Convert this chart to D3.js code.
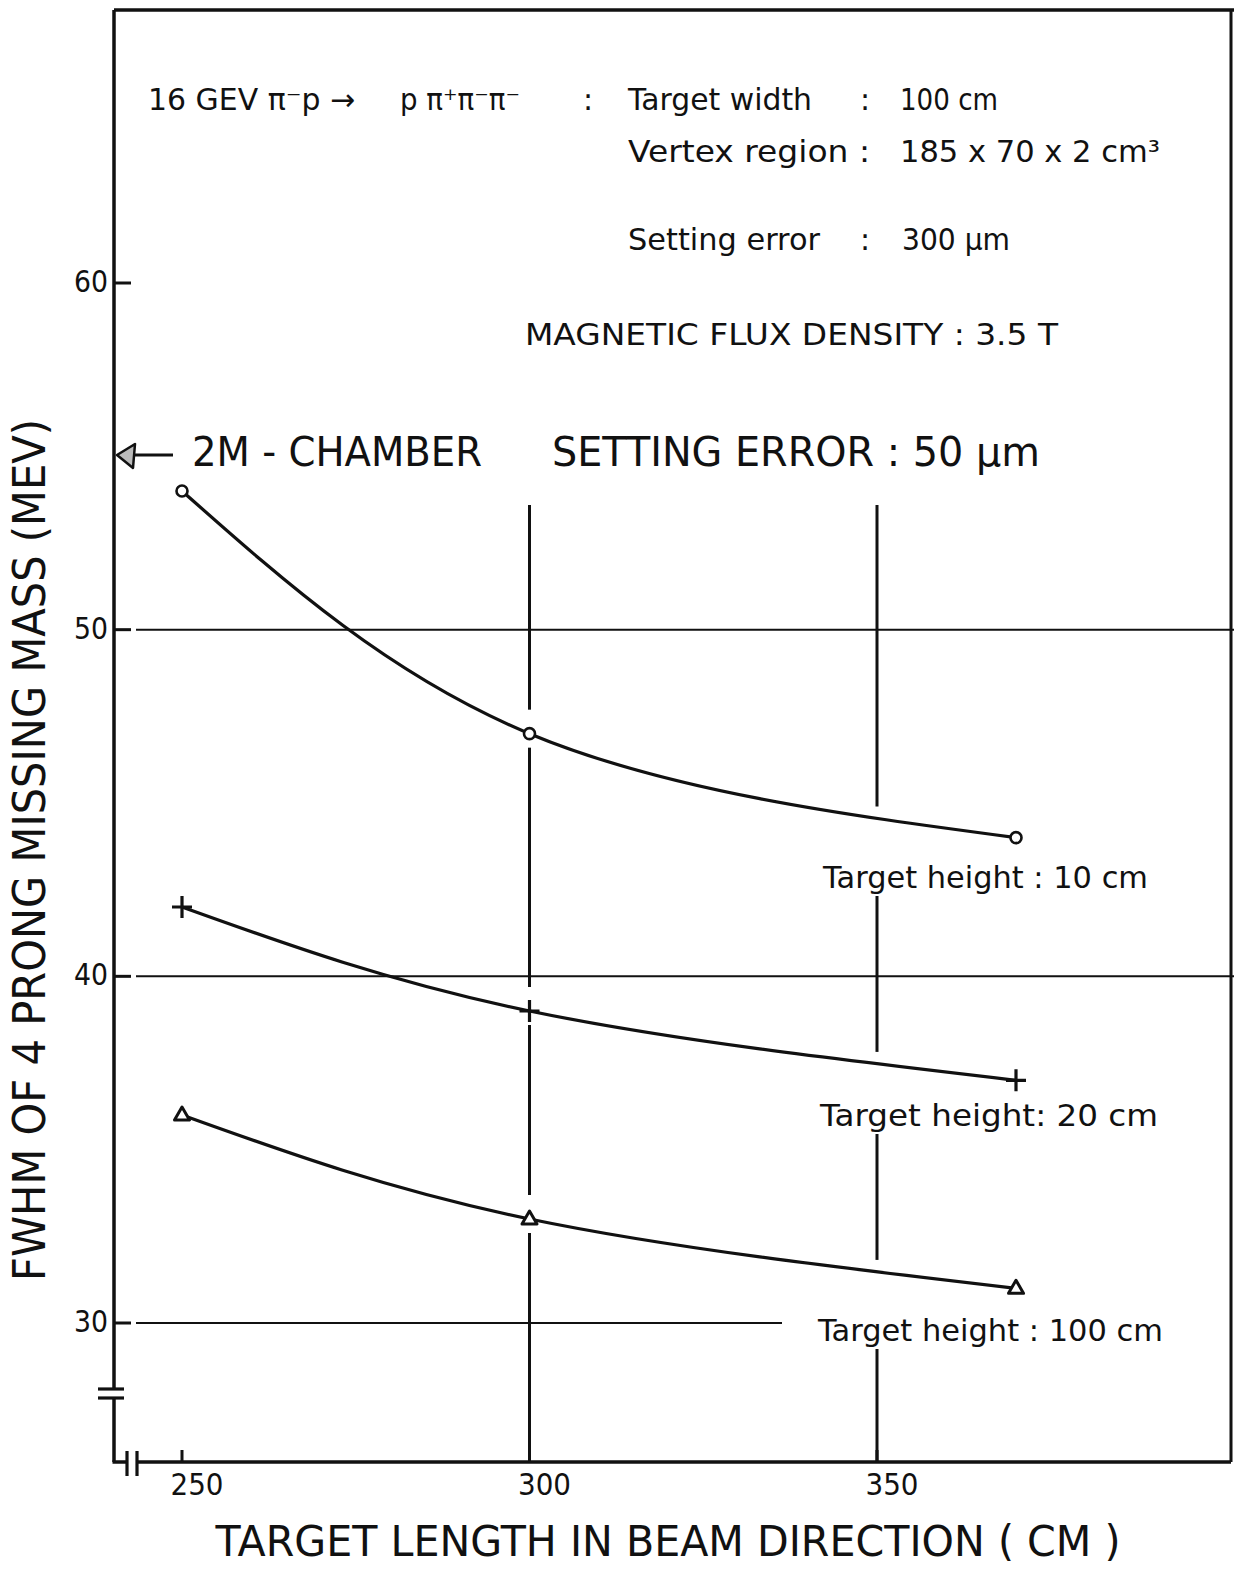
<!DOCTYPE html>
<html>
<head>
<meta charset="utf-8">
<script src="https://cdn.jsdelivr.net/npm/d3@7"></script>
<style>
  html, body { margin: 0; padding: 0; background: #fff; }
  svg { display: block; }
  text { font-family: "DejaVu Sans", "Liberation Sans", Arial, sans-serif; fill: #111; }
</style>
</head>
<body>
<svg id="chart" width="1234" height="1569"></svg>
<script>
// Target length along the beam (cm)
const lengths = [250, 300, 370];
// FWHM of the 4-prong missing mass (MeV) for each target height
const fwhm10 = [54, 47, 44];
const fwhm20 = [42, 39, 37];
const fwhm100 = [36, 33, 31];
const markerKinds = ["circle", "plus", "triangle"];
const seriesLabels = ["Target height : 10 cm", "Target height: 20 cm", "Target height : 100 cm"];
const yTicks = [30, 40, 50, 60];
const xTicks = [250, 300, 350];
const refLines = [50, 40, 30];
const guideLines = [300, 350];

const svg = d3.select("#chart");
const ink = "#111";

const x = d3.scaleLinear().domain([250, 350]).range([182, 877]);
const y = d3.scaleLinear().domain([30, 60]).range([1323, 283]);

const frameL = 114, frameT = 10, frameR = 1231, frameB = 1462;

// frame
svg.append("line").attr("x1", frameL).attr("x2", 1234).attr("y1", frameT).attr("y2", frameT)
  .attr("stroke", ink).attr("stroke-width", 3.5);
svg.append("line").attr("x1", frameR).attr("x2", frameR).attr("y1", frameT).attr("y2", frameB)
  .attr("stroke", ink).attr("stroke-width", 3);
// y axis with break
svg.append("line").attr("x1", frameL).attr("x2", frameL).attr("y1", frameT).attr("y2", 1389)
  .attr("stroke", ink).attr("stroke-width", 3.5);
svg.append("line").attr("x1", frameL).attr("x2", frameL).attr("y1", 1398).attr("y2", frameB)
  .attr("stroke", ink).attr("stroke-width", 3.5);
[1389, 1398].forEach(v => svg.append("line").attr("x1", 98).attr("x2", 124)
  .attr("y1", v).attr("y2", v).attr("stroke", ink).attr("stroke-width", 3.2));
// x axis with break
svg.append("line").attr("x1", frameL - 1.5).attr("x2", 127).attr("y1", frameB).attr("y2", frameB)
  .attr("stroke", ink).attr("stroke-width", 3.5);
svg.append("line").attr("x1", 137).attr("x2", frameR).attr("y1", frameB).attr("y2", frameB)
  .attr("stroke", ink).attr("stroke-width", 3.5);
[127, 137].forEach(v => svg.append("line").attr("x1", v).attr("x2", v)
  .attr("y1", 1451).attr("y2", 1476).attr("stroke", ink).attr("stroke-width", 3.2));

// y ticks and labels
yTicks.forEach(t => {
  svg.append("line").attr("x1", frameL).attr("x2", 131).attr("y1", y(t)).attr("y2", y(t))
    .attr("stroke", ink).attr("stroke-width", 3);
  svg.append("text").attr("x", 108).attr("y", y(t) + 9).attr("text-anchor", "end")
    .attr("font-size", 30).attr("textLength", 34).attr("lengthAdjust", "spacingAndGlyphs").text(t);
});

// x ticks and labels
xTicks.forEach(t => {
  svg.append("line").attr("x1", x(t)).attr("x2", x(t)).attr("y1", frameB - 12).attr("y2", frameB)
    .attr("stroke", ink).attr("stroke-width", 3);
  svg.append("text").attr("x", x(t) + 15).attr("y", 1495).attr("text-anchor", "middle")
    .attr("font-size", 30).attr("textLength", 53).attr("lengthAdjust", "spacingAndGlyphs").text(t);
});

// horizontal reference lines
refLines.forEach(v => {
  svg.append("line").attr("x1", 136).attr("x2", v === 30 ? 782 : 1234)
    .attr("y1", y(v)).attr("y2", y(v)).attr("stroke", ink).attr("stroke-width", 2);
});

// curves
const series = [fwhm10, fwhm20, fwhm100];
const line = d3.line().x(d => x(d[0])).y(d => y(d[1])).curve(d3.curveNatural);
const paths = series.map(vals => {
  const pts = lengths.map((l, i) => [l, vals[i]]);
  return svg.append("path").attr("d", line(pts)).attr("fill", "none")
    .attr("stroke", ink).attr("stroke-width", 3.2);
});

// y position of a curve at a given pixel x
function curveYAt(path, px) {
  const node = path.node();
  let lo = 0, hi = node.getTotalLength();
  for (let k = 0; k < 40; k++) {
    const mid = (lo + hi) / 2;
    if (node.getPointAtLength(mid).x < px) lo = mid; else hi = mid;
  }
  return node.getPointAtLength(lo).y;
}

// series labels
const labelPos = [[823, 888], [820, 1126], [818, 1341]];
const labelLen = [325, 338, 345];
seriesLabels.forEach((s, i) => {
  svg.append("text").attr("x", labelPos[i][0]).attr("y", labelPos[i][1])
    .attr("font-size", 30).attr("textLength", labelLen[i])
    .attr("lengthAdjust", "spacingAndGlyphs").text(s);
});

// vertical guide lines, broken around markers and labels
const guideTop = 505;
function vseg(px, y1, y2) {
  svg.append("line").attr("x1", px).attr("x2", px).attr("y1", y1).attr("y2", y2)
    .attr("stroke", ink).attr("stroke-width", 3);
}
{
  const px = x(guideLines[0]);
  const gaps = series.map(vals => [y(vals[1]) - 24, y(vals[1]) + 14]);
  let start = guideTop;
  gaps.forEach(g => { vseg(px, start, g[0]); start = g[1]; });
  vseg(px, start, frameB);
}
{
  const px = x(guideLines[1]);
  const gaps = paths.map((p, i) => [curveYAt(p, px) - 12, labelPos[i][1] + 8]);
  let start = guideTop;
  gaps.forEach(g => { vseg(px, start, g[0]); start = g[1]; });
  vseg(px, start, frameB);
}

// markers
series.forEach((vals, si) => {
  lengths.forEach((l, i) => {
    const cx = x(l), cy = y(vals[i]);
    const kind = markerKinds[si];
    if (kind === "circle") {
      svg.append("circle").attr("cx", cx).attr("cy", cy).attr("r", 5.5)
        .attr("fill", "#fff").attr("stroke", ink).attr("stroke-width", 2.6);
    } else if (kind === "plus") {
      svg.append("path").attr("d", `M${cx - 10},${cy}H${cx + 10}M${cx},${cy - 11}V${cy + 11}`)
        .attr("stroke", ink).attr("stroke-width", 3.2).attr("fill", "none");
    } else {
      svg.append("path").attr("d", `M${cx},${cy - 8}L${cx + 7.5},${cy + 5}L${cx - 7.5},${cy + 5}Z`)
        .attr("fill", "#fff").attr("stroke", ink).attr("stroke-width", 3).attr("stroke-linejoin", "round");
    }
  });
});

// annotation block
const fs = 30;
function txt(s, tx, ty, size, len) {
  const t = svg.append("text").attr("x", tx).attr("y", ty).attr("font-size", size || fs).text(s);
  if (len) t.attr("textLength", len).attr("lengthAdjust", "spacingAndGlyphs");
  return t;
}
txt("16 GEV \u03C0\u207Bp \u2192", 148, 110, fs, 207);
txt("p \u03C0\u207A\u03C0\u207B\u03C0\u207B", 400, 110, fs, 120);
txt(":", 583, 110);
txt("Target  width", 628, 110, fs, 184);
txt(":", 860, 110);
txt("100 cm", 900, 110, fs, 98);
txt("Vertex  region  :", 628, 162, fs, 242);
txt("185  x  70  x  2 cm\u00B3", 900, 162, fs, 260);
txt("Setting  error", 628, 250, fs, 192);
txt(":", 860, 250);
txt("300 \u03BCm", 902, 250, fs, 108);
txt("MAGNETIC  FLUX  DENSITY  :  3.5  T", 525, 345, fs, 533);

// 2M chamber pointer
const ay = 455;
svg.append("line").attr("x1", 130).attr("x2", 173).attr("y1", ay).attr("y2", ay)
  .attr("stroke", ink).attr("stroke-width", 3);
svg.append("path").attr("d", `M${frameL + 3},${ay}L${frameL + 21},${ay - 11}L${frameL + 19},${ay + 13}Z`)
  .attr("fill", "#bbb").attr("stroke", ink).attr("stroke-width", 2.5).attr("stroke-linejoin", "round");
txt("2M - CHAMBER", 192, 466, 40, 290);
txt("SETTING  ERROR : 50 \u03BCm", 552, 466, 40, 488);

// axis titles
svg.append("text").attr("transform", "translate(45,850) rotate(-90)")
  .attr("text-anchor", "middle").attr("font-size", 44)
  .attr("textLength", 862).attr("lengthAdjust", "spacingAndGlyphs")
  .text("FWHM  OF  4  PRONG  MISSING  MASS  (MEV)");
svg.append("text").attr("x", 668).attr("y", 1556).attr("text-anchor", "middle")
  .attr("font-size", 42).attr("textLength", 905).attr("lengthAdjust", "spacingAndGlyphs")
  .text("TARGET  LENGTH  IN  BEAM  DIRECTION  ( CM )");
</script>
</body>
</html>
